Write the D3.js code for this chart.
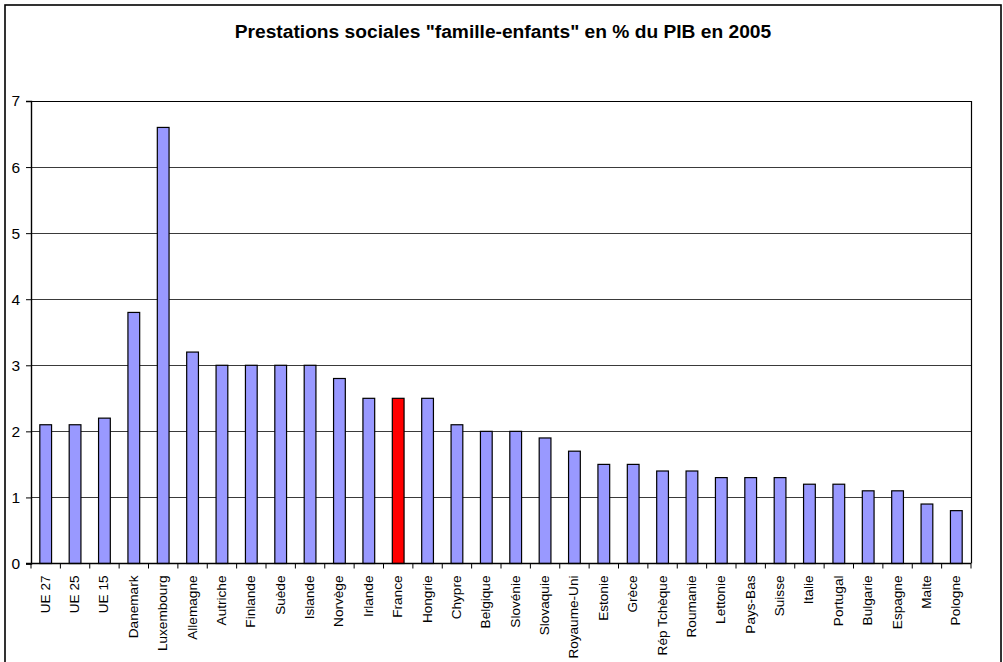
<!DOCTYPE html>
<html>
<head>
<meta charset="utf-8">
<script src="https://cdn.jsdelivr.net/npm/d3@7"></script>
<style>
    body { margin: 0; background: #fff; }
    svg { display: block; }
</style>
</head>
<body>
<div id="chart"></div>
<script>
// Data
const categories = ['UE 27', 'UE 25', 'UE 15', 'Danemark', 'Luxembourg', 'Allemagne', 'Autriche',
    'Finlande', 'Suède', 'Islande', 'Norvège', 'Irlande', 'France', 'Hongrie', 'Chypre', 'Belgique',
    'Slovénie', 'Slovaquie', 'Royaume-Uni', 'Estonie', 'Grèce', 'Rép Tchèque', 'Roumanie', 'Lettonie',
    'Pays-Bas', 'Suisse', 'Italie', 'Portugal', 'Bulgarie', 'Espagne', 'Malte', 'Pologne'];
const values = [2.1, 2.1, 2.2, 3.8, 6.6, 3.2, 3.0,
    3.0, 3.0, 3.0, 2.8, 2.5, 2.5, 2.5, 2.1, 2.0,
    2.0, 1.9, 1.7, 1.5, 1.5, 1.4, 1.4, 1.3,
    1.3, 1.3, 1.2, 1.2, 1.1, 1.1, 0.9, 0.8];
const yTicks = [0, 1, 2, 3, 4, 5, 6, 7];
const highlight = 'France';
const chartTitle = 'Prestations sociales "famille-enfants" en % du PIB en 2005';

const width = 1003, height = 662;
const plot = { left: 31, top: 101, right: 971, bottom: 563.5 };
const font = 'Arial, "Liberation Sans", sans-serif';

let svg = d3.select('#chart').append('svg')
    .attr('width', width)
    .attr('height', height);

svg.append('rect')
    .attr('width', width).attr('height', height)
    .attr('fill', '#fff');

// Outer chart border
svg.append('rect')
    .attr('x', 5).attr('y', 5)
    .attr('width', 996).attr('height', 700)
    .attr('fill', 'none')
    .attr('stroke', '#000')
    .attr('stroke-width', 1.6);

// Title
svg.append('text')
    .attr('x', 503).attr('y', 38)
    .attr('text-anchor', 'middle')
    .attr('font-family', font)
    .attr('font-size', 19.2)
    .attr('font-weight', 'bold')
    .text(chartTitle);

let data = categories.map((c, i) => ({ label: c, value: values[i] }));

let xScale = d3.scaleBand()
    .domain(categories)
    .range([plot.left, plot.right])
    .paddingInner(0.6)
    .paddingOuter(0.3);

let yScale = d3.scaleLinear()
    .domain([0, 7])
    .range([plot.bottom, plot.top]);

let step = xScale.step();

// Gridlines
svg.append('g')
    .selectAll('line')
    .data(yTicks.filter(t => t > 0 && t < 7))
    .enter()
    .append('line')
    .attr('x1', plot.left).attr('x2', plot.right)
    .attr('y1', d => Math.round(yScale(d)) + 0.5)
    .attr('y2', d => Math.round(yScale(d)) + 0.5)
    .attr('stroke', '#3a3a3a')
    .attr('stroke-width', 1);

// Plot area border (top and right)
svg.append('path')
    .attr('d', `M${plot.left},${plot.top + 0.5}H${plot.right + 0.5}V${plot.bottom}`)
    .attr('fill', 'none')
    .attr('stroke', '#000')
    .attr('stroke-width', 1.2);

// Bars
svg.append('g')
    .selectAll('rect')
    .data(data)
    .enter()
    .append('rect')
    .attr('x', d => xScale(d.label))
    .attr('y', d => yScale(d.value))
    .attr('width', xScale.bandwidth())
    .attr('height', d => plot.bottom - yScale(d.value))
    .attr('fill', d => d.label === highlight ? '#ff0000' : '#9999ff')
    .attr('stroke', '#000')
    .attr('stroke-width', 1.2);

// Y axis
let yAxis = d3.axisLeft(yScale)
    .tickValues(yTicks)
    .tickSize(5)
    .tickPadding(6)
    .tickFormat(d3.format('d'));

let yg = svg.append('g')
    .attr('transform', `translate(${plot.left},0)`)
    .call(yAxis);
yg.select('.domain').attr('stroke', '#000').attr('stroke-width', 1.4);
yg.selectAll('.tick line').attr('stroke', '#000');
yg.selectAll('.tick text')
    .attr('font-family', font)
    .attr('font-size', 15.5)
    .attr('fill', '#000');

// X axis: ticks sit between categories
let xg = svg.append('g');
xg.append('line')
    .attr('x1', plot.left - 5).attr('x2', plot.right)
    .attr('y1', plot.bottom).attr('y2', plot.bottom)
    .attr('stroke', '#000')
    .attr('stroke-width', 1.4);

let boundaries = categories.map(c => xScale(c) - step * 0.3).concat([plot.right]);
xg.selectAll('line.xtick')
    .data(boundaries)
    .enter()
    .append('line')
    .attr('class', 'xtick')
    .attr('x1', d => d).attr('x2', d => d)
    .attr('y1', plot.bottom).attr('y2', plot.bottom + 5)
    .attr('stroke', '#000');

xg.selectAll('text')
    .data(categories)
    .enter()
    .append('text')
    .attr('transform', d => `translate(${xScale(d) + xScale.bandwidth() / 2 + 4},${plot.bottom + 12}) rotate(-90)`)
    .attr('text-anchor', 'end')
    .attr('font-family', font)
    .attr('font-size', 13.6)
    .text(d => d);
</script>
</body>
</html>
